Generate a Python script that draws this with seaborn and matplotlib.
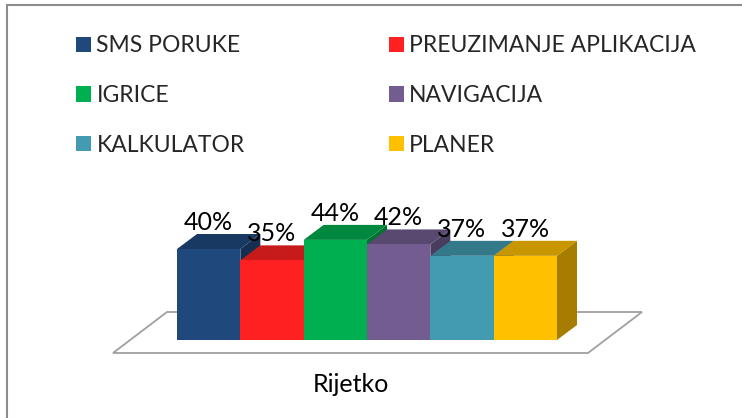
import matplotlib
matplotlib.use("Agg")
import matplotlib.pyplot as plt
import matplotlib.colors as mcolors
from matplotlib.patches import Polygon, Rectangle, Patch
import seaborn as sns
import pandas as pd

# data
kategorije = ["Rijetko"]
serije = ["SMS PORUKE", "PREUZIMANJE APLIKACIJA", "IGRICE", "NAVIGACIJA", "KALKULATOR", "PLANER"]
vrijednosti = [40, 35, 44, 42, 37, 37]
boje = ["#1F497D", "#FF2121", "#00B050", "#725C90", "#439BB1", "#FFC000"]

df = pd.DataFrame({
    "kategorija": kategorije * len(serije),
    "serija": serije,
    "vrijednost": vrijednosti,
})

W, H = 742, 418
sns.set_style("white")
plt.rcParams["font.family"] = ["Lato", "DejaVu Sans"]
FS = 18          # data labels / category
FS_LEG = 16.5    # legend

fig = plt.figure(figsize=(W / 100, H / 100), dpi=100)
# axes placed in pixels: x 100..660, y 180..360
ax = fig.add_axes([100 / W, (H - 360) / H, 560 / W, 180 / H])

sns.barplot(data=df, x="kategorija", y="vrijednost", hue="serija", hue_order=serije,
            palette=boje, width=1, gap=0, saturation=1, linewidth=0,
            legend=False, ax=ax)

px_x = 380.0     # pixels per x unit
px_y = 2.275     # pixels per percent
ax.set_xlim(-0.5 - 77 / px_x, 0.5 + 103 / px_x)
ax.set_ylim(-20 / px_y, 160 / px_y)
ax.set_axis_off()

# 3d depth of the bars
dx = 20 / px_x
dy = 15 / px_y

def shade(c, f):
    r, g, b = mcolors.to_rgb(c)
    return (r * f, g * f, b * f)

# floor of the plot area, derived from the bar extent
bar_left = min(c[0].get_x() for c in ax.containers)
bar_right = max(c[0].get_x() + c[0].get_width() for c in ax.containers)
fl_left = bar_left - 64 / px_x
fl_right = bar_right + 31 / px_x
fl_y = -13 / px_y
fdx, fdy = 54 / px_x, 41 / px_y
floor = Polygon([(fl_left, fl_y), (fl_right, fl_y), (fl_right + fdx, fl_y + fdy),
                 (fl_left + fdx, fl_y + fdy)], closed=True, facecolor="white",
                edgecolor="#A0A0A0", linewidth=1.3, zorder=0)
ax.add_patch(floor)

for i, cont in enumerate(ax.containers):
    bar = cont[0]
    x0 = bar.get_x()
    x1 = x0 + bar.get_width()
    h = bar.get_height()
    col = boje[i]
    side = Polygon([(x1, 0), (x1, h), (x1 + dx, h + dy), (x1 + dx, dy)], closed=True,
                   facecolor=shade(col, 0.65), edgecolor="none", zorder=3 * i + 1)
    top = Polygon([(x0, h), (x1, h), (x1 + dx, h + dy), (x0 + dx, h + dy)], closed=True,
                  facecolor=shade(col, 0.78), edgecolor="none", zorder=3 * i + 2)
    ax.add_patch(side)
    ax.add_patch(top)
    bar.set_zorder(3 * i + 3)
    ax.annotate(f"{h:.0f}%", xy=((x0 + x1) / 2, h + dy), xytext=(0, 3),
                textcoords="offset points", ha="center", va="baseline",
                fontsize=FS, color="black", zorder=40)

# category label under the floor front edge
ax.text((fl_left + fl_right) / 2, fl_y - 32 / px_y, kategorije[0], ha="center", va="center",
        fontsize=FS, color="black", clip_on=False)

# legend, row-major order like the original
order = [0, 2, 4, 1, 3, 5]
handles = [Patch(facecolor=boje[k], edgecolor="none") for k in order]
labels = [serije[k] for k in order]
fig.legend(handles, labels, ncol=2, loc="upper left", bbox_to_anchor=(65 / W, 1 - 24 / H),
           frameon=False, fontsize=FS_LEG, handlelength=0.65, handleheight=0.65,
           handletextpad=0.22, columnspacing=6.3, labelspacing=1.25, borderpad=0)

# outer chart border (cut by the image on the right and bottom)
fig.add_artist(Rectangle((7 / W, -0.2), 1.2, 1.2 - 5 / H, transform=fig.transFigure,
                         fill=False, edgecolor="#8C8C8C", linewidth=1.5))

fig.savefig("out.png", dpi=100)
